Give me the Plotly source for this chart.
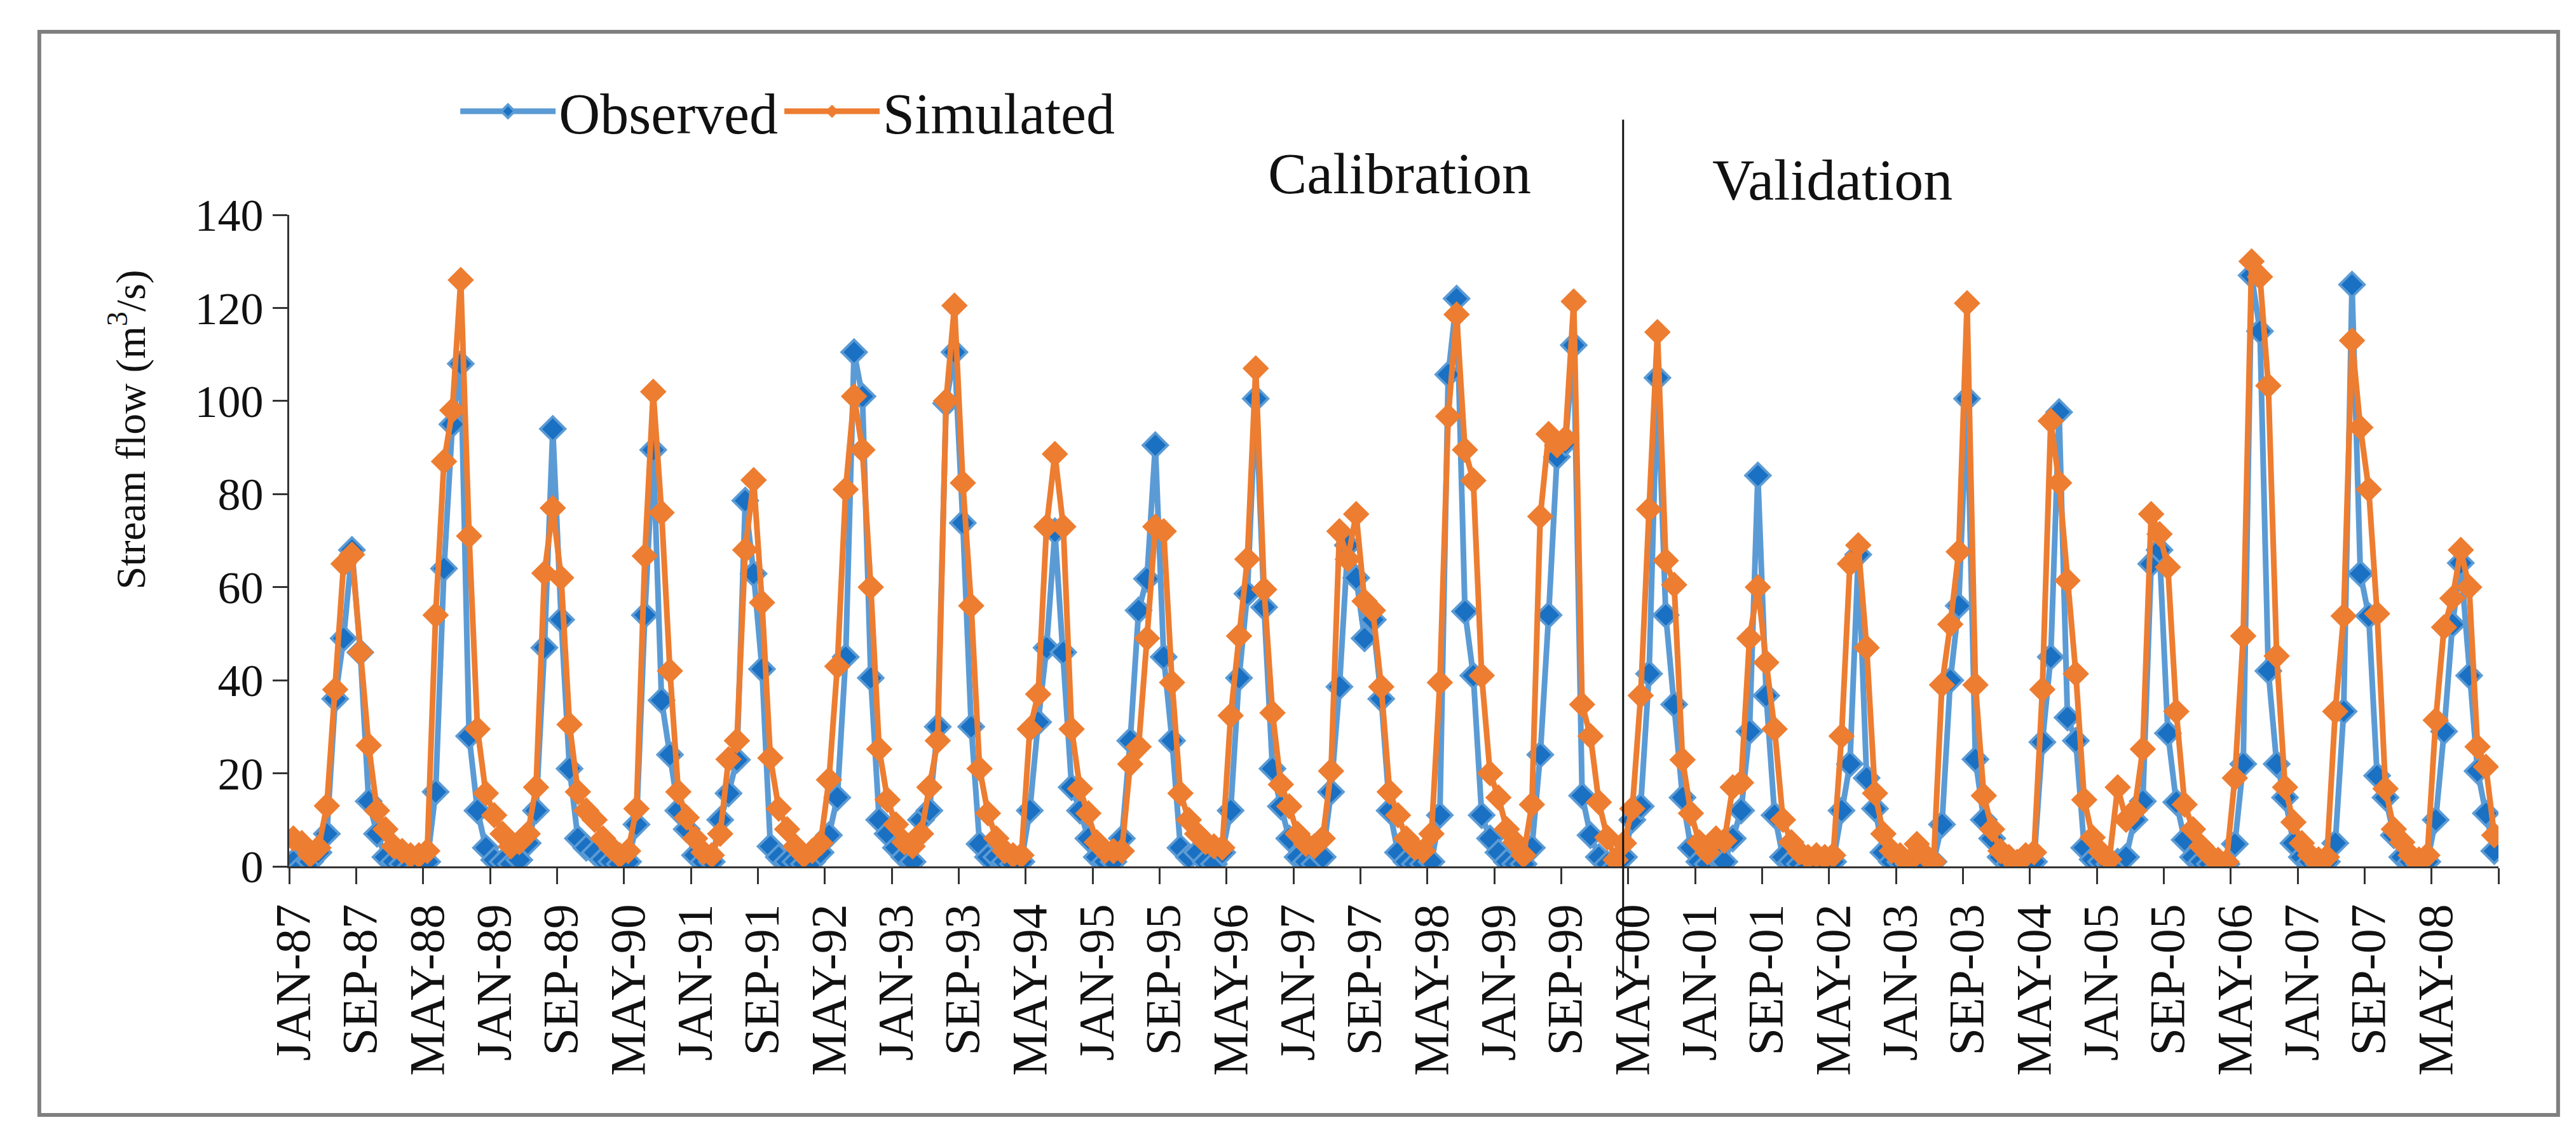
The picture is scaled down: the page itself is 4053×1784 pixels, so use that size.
import plotly.graph_objects as go

# monthly stream flow, Jan 1987 - Dec 2008 (one row per year, Jan..Dec)
months = ["JAN", "FEB", "MAR", "APR", "MAY", "JUN", "JUL", "AUG", "SEP", "OCT", "NOV", "DEC"]
years = list(range(1987, 2009))

observed = [
    1, 0, 1, 3, 7, 36, 49, 68, 46, 14, 7, 2,                      # 1987
    1, 0.5, 0, 0, 1, 16, 64, 95, 108, 28, 12, 4,                  # 1988
    1.4, 1, 0.5, 1.4, 5, 12, 47, 94, 53, 21, 6, 4,                # 1989
    3, 1.5, 1, 0.5, 1, 9, 54, 89.5, 35.7, 24, 12, 8,              # 1990
    2.4, 1, 1, 10, 15.7, 22.9, 78.6, 62.9, 42.4, 4.3, 2, 1,       # 1991
    1, 0.5, 1, 3, 6.7, 14.8, 45, 110.5, 101, 40.5, 10, 7,         # 1992
    4, 2, 1, 10, 12, 30, 99.5, 110.5, 73.8, 30, 4.8, 2,           # 1993
    2, 1, 0.5, 1, 12, 31, 47, 72, 46, 17, 12, 6,                  # 1994
    2, 1, 1, 6, 27, 55, 61.8, 90.5, 45, 27, 4, 2,                 # 1995
    3, 1, 0.5, 3, 12, 40.5, 58.6, 100.5, 55.7, 21, 12.9, 6,       # 1996
    2, 1, 0.5, 2, 16, 38.6, 69, 62, 49, 53, 36, 12,               # 1997
    3, 1, 0.5, 0.5, 1, 11, 105.7, 122, 54.8, 41, 11, 6,           # 1998
    3, 1, 0.5, 0.5, 4, 24, 54, 88, 91, 112, 15.2, 6.7,            # 1999
    2, 0.5, 0, 2, 10, 12.9, 41.4, 105, 54, 34.8, 14.8, 4,         # 2000
    1, 0.5, 2, 1, 6, 12, 29, 84, 36.7, 11, 2, 1,                  # 2001
    0.5, 0, 0.5, 1, 1, 12, 22, 67, 19, 12.4, 3, 1,                # 2002
    1, 0.5, 0, 0.5, 1, 9, 40, 56, 100.5, 23, 10, 6,               # 2003
    2, 0.5, 0, 0.5, 1, 26.7, 45, 97.6, 32, 27, 4, 1.5,            # 2004
    1, 0.5, 1, 2, 10, 14, 65, 68, 28.6, 13.8, 5.7, 2,             # 2005
    1, 0.5, 0, 0.5, 4.8, 22, 127, 115, 42, 22, 14.8, 5,           # 2006
    2, 1, 0.5, 1, 5, 33.3, 125, 62.9, 53.8, 19.5, 14.8, 6.7,      # 2007
    2, 1, 0.5, 1, 10, 29, 52, 65.2, 41, 20.5, 11.4, 3.3,          # 2008
]

simulated = [
    6, 5, 2.5, 4, 13, 38, 65, 67, 46, 26, 12, 8,                  # 1987
    4.3, 3.3, 2.4, 2.4, 3.3, 54, 87, 98, 126, 71, 29.5, 15.7,     # 1988
    11, 7, 4.3, 5.2, 7, 17, 63, 77, 62, 30.5, 16, 12,             # 1989
    10, 6, 4, 2.4, 3.3, 12.4, 66.7, 102, 76, 42, 16, 10.5,        # 1990
    6, 3, 2.4, 7, 23, 27, 68, 83, 56.7, 23.3, 12.4, 8,            # 1991
    4.3, 2.4, 3.3, 5, 18.6, 43, 81, 101, 89.5, 60, 25.2, 14.3,    # 1992
    9, 5.2, 4.3, 7, 17, 27, 100, 120.5, 82.4, 56, 21, 11.4,       # 1993
    6, 3.3, 2.4, 2.4, 29.5, 37, 73, 88.6, 73, 29.5, 16.7, 11.4,   # 1994
    5.2, 3.3, 3.3, 3.3, 22, 25.7, 49, 73, 72, 39.5, 15.7, 10,     # 1995
    7, 5.2, 4.3, 4, 32.4, 49.5, 66, 107, 59.5, 33, 17.6, 12.9,    # 1996
    7, 4.8, 4.3, 6, 20.5, 72, 66, 75.7, 57, 55, 38.6, 16,         # 1997
    11, 6, 4, 3.3, 7, 39.5, 96.7, 118.6, 89.5, 82.9, 41, 20,      # 1998
    14.8, 8, 5.2, 2.4, 13.3, 75.2, 92.9, 90.5, 92, 121.4, 34.8, 28,  # 1999
    13.8, 6.2, 1.4, 5, 12.4, 36.7, 76.7, 114.8, 65.7, 60.5, 22.9, 11.4,  # 2000
    5.2, 3, 6, 5.5, 17, 18, 49, 60, 43.8, 29.5, 10, 5.2,          # 2001
    3, 2, 2.4, 2, 2.4, 28, 65, 69, 47, 15.7, 7, 3.3,              # 2002
    2.4, 1, 4.8, 2.4, 1, 39, 52, 67.6, 121, 39, 15.2, 8,          # 2003
    3.3, 2, 1, 2.4, 3, 38, 95.7, 82.4, 61.4, 41.4, 14.3, 6.2,     # 2004
    3, 1.5, 17, 10, 12, 25.2, 75.7, 71.4, 64.3, 33.3, 13.3, 8,    # 2005
    4.3, 2.4, 1.4, 1, 19, 49.5, 130, 126.7, 103.3, 45.2, 17, 9.5, # 2006
    5, 2.4, 1.5, 2, 33.3, 53.8, 113, 94.3, 81, 54.3, 16.7, 8,     # 2007
    5.2, 2.4, 1.5, 2.4, 31.4, 51.4, 57.6, 68, 60, 25.7, 21.4, 6.7,  # 2008
]

labels = [m + "-" + str(y)[2:] for y in years for m in months]
x = list(range(len(labels)))

serif = "Palatino Linotype, Book Antiqua, Palatino, Liberation Serif, serif"
blue_line = "#5B9BD5"
blue_mark = "#1A70C2"
orange = "#ED7D31"

fig = go.Figure()
fig.add_trace(go.Scatter(
    x=x, y=observed, name="Observed", mode="lines+markers",
    line=dict(color=blue_line, width=9),
    marker=dict(symbol="diamond", size=30, color=blue_mark,
                line=dict(color=blue_line, width=4)),
    customdata=labels, hovertemplate="%{customdata}: %{y}<extra></extra>",
))
fig.add_trace(go.Scatter(
    x=x, y=simulated, name="Simulated", mode="lines+markers",
    line=dict(color=orange, width=9),
    marker=dict(symbol="diamond", size=32, color=orange),
    customdata=labels, hovertemplate="%{customdata}: %{y}<extra></extra>",
))

step = 8
fig.update_xaxes(
    range=[-0.5, len(x) - 0.5],
    tickmode="array", tickvals=x[::step], ticktext=labels[::step],
    tickangle=-90, ticks="outside", ticklen=25, tickcolor="rgba(0,0,0,0)",
    tickfont=dict(family=serif, size=78, color="#111"),
    minor=dict(tickmode="array", tickvals=[v - 0.5 for v in x[::step]] + [len(x) - 0.5],
               ticks="outside", ticklen=25, tickwidth=3, tickcolor="#333"),
    showline=True, linecolor="#333", linewidth=3,
    showgrid=False, zeroline=False,
)
fig.update_yaxes(
    range=[0, 140], tickmode="linear", tick0=0, dtick=20,
    ticks="outside", ticklen=23, tickwidth=3, tickcolor="#333",
    tickfont=dict(family=serif, size=72, color="#111"),
    showline=True, linecolor="#333", linewidth=3,
    showgrid=False, zeroline=False,
)

fig.update_layout(
    width=4053, height=1784,
    margin=dict(l=447, r=130, t=330, b=429, pad=0),
    plot_bgcolor="white", paper_bgcolor="white",
    font=dict(family=serif, color="#111"),
    legend=dict(orientation="h", x=0.076, y=1.159, xanchor="left", yanchor="middle",
                font=dict(family=serif, size=90), bgcolor="rgba(0,0,0,0)",
                itemwidth=150, tracegroupgap=0),
    showlegend=True,
)

# calibration / validation split
fig.add_shape(type="line", xref="x", yref="paper", x0=158.9, x1=158.9, y0=-0.171, y1=1.146,
              line=dict(color="#111", width=3))
# outer frame
fig.add_shape(type="rect", xref="paper", yref="paper", x0=-0.1131, x1=1.027, y0=-0.3815, y1=1.281,
              line=dict(color="#7F7F7F", width=6))

fig.add_annotation(text="Calibration", xref="paper", yref="paper", x=0.5026, y=1.063,
                   xanchor="center", yanchor="middle", showarrow=False,
                   font=dict(family=serif, size=92, color="#111"))
fig.add_annotation(text="Validation", xref="paper", yref="paper", x=0.6985, y=1.054,
                   xanchor="center", yanchor="middle", showarrow=False,
                   font=dict(family=serif, size=92, color="#111"))
fig.add_annotation(text="Stream flow (m<sup>3</sup>/s)", xref="paper", yref="paper",
                   x=-0.073, y=0.67, xanchor="center", yanchor="middle",
                   textangle=-90, showarrow=False,
                   font=dict(family=serif, size=66, color="#111"))

fig.write_html("out.html")
